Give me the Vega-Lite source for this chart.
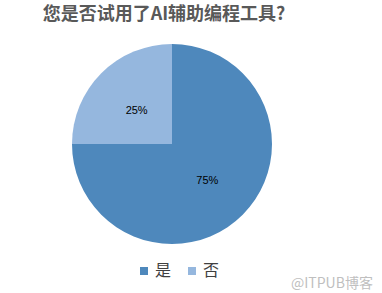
{
  "$schema": "https://vega.github.io/schema/vega-lite/v6.json",
  "width": 200,
  "height": 200,
  "autosize": {"type": "none"},
  "padding": {"left": 72, "top": 44, "right": 110, "bottom": 49},
  "background": "white",
  "title": {
    "text": "您是否试用了AI辅助编程工具?",
    "font": "Noto Sans CJK SC",
    "fontSize": 18,
    "fontWeight": "bold",
    "color": "#595959",
    "anchor": "middle",
    "dx": -8,
    "offset": 20
  },
  "data": {
    "values": [
      {"answer": "是", "share": 75, "label": "75%"},
      {"answer": "否", "share": 25, "label": "25%"}
    ]
  },
  "encoding": {
    "theta": {"field": "share", "type": "quantitative", "stack": true},
    "order": {"field": "share", "sort": "descending"}
  },
  "layer": [
    {
      "mark": {"type": "arc", "outerRadius": 100},
      "encoding": {
        "color": {
          "field": "answer",
          "type": "nominal",
          "scale": {"domain": ["是", "否"], "range": ["#4E88BC", "#95B7DE"]},
          "legend": {
            "orient": "none",
            "legendX": 64,
            "legendY": 219,
            "direction": "horizontal",
            "symbolType": "square",
            "symbolSize": 64,
            "symbolStrokeWidth": 0,
            "symbolOpacity": 1,
            "labelFont": "Noto Sans CJK SC",
            "labelFontSize": 16,
            "labelColor": "#404040",
            "labelOffset": 3,
            "columnPadding": 12,
            "title": "@ITPUB博客",
            "titleOrient": "right",
            "titleBaseline": "line-top",
            "titleLineHeight": 26,
            "titlePadding": 72,
            "titleFont": "Noto Sans CJK SC",
            "titleFontSize": 14,
            "titleFontWeight": "normal",
            "titleColor": "#BFBFBF"
          }
        }
      }
    },
    {
      "mark": {"type": "text", "radius": 50, "dy": 2, "font": "Liberation Sans", "fontSize": 11, "color": "#000000"},
      "encoding": {"text": {"field": "label"}}
    }
  ],
  "config": {"view": {"stroke": null}}
}
